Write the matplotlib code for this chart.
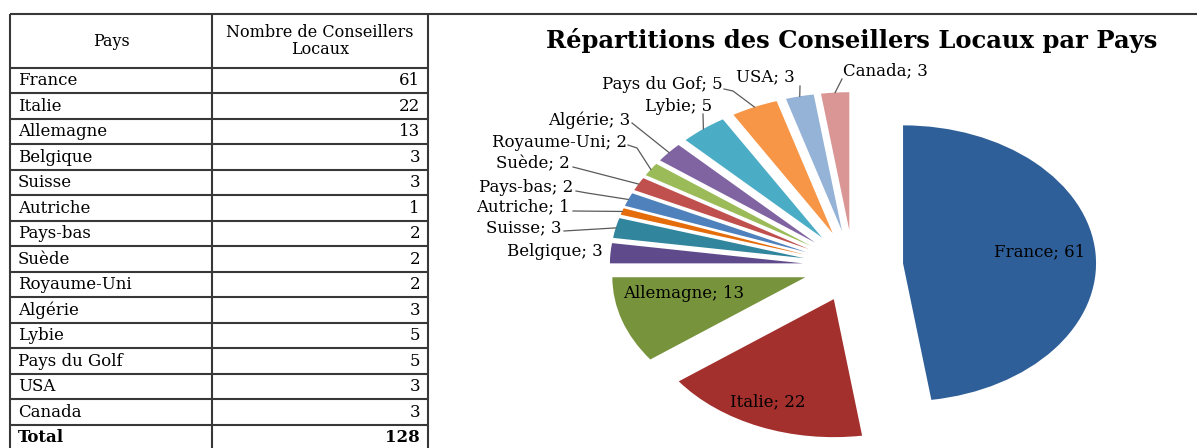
import numpy as np
import matplotlib
matplotlib.use("Agg")
import matplotlib.pyplot as plt

plt.rcParams["font.family"] = ["DejaVu Serif"]

# Données : nombre de conseillers locaux par pays
pays = ["France", "Italie", "Allemagne", "Belgique", "Suisse", "Autriche", "Pays-bas",
        "Suède", "Royaume-Uni", "Algérie", "Lybie", "Pays du Golf", "USA", "Canada"]
conseillers = [61, 22, 13, 3, 3, 1, 2, 2, 2, 3, 5, 5, 3, 3]
# libellés du camembert (tels qu'écrits sur le graphique)
noms_pie = ["France", "Italie", "Allemagne", "Belgique", "Suisse", "Autriche", "Pays-bas",
            "Suède", "Royaume-Uni", "Algérie", "Lybie", "Pays du Gof", "USA", "Canada"]
couleurs = ["#2F5F98", "#A3302C", "#77933C", "#5F4A8B", "#31859C", "#E46C0A",
            "#4F81BD", "#C0504D", "#9BBB59", "#8064A2", "#4BACC6", "#F79646",
            "#95B3D7", "#D99694"]
titre = "Répartitions des Conseillers Locaux par Pays"

W, H = 1197, 448
fig = plt.figure(figsize=(W / 100, H / 100), dpi=100)

# ---- tableau (coordonnées en pixels) ----
tab = fig.add_axes([0, 0, 1, 1])
tab.set_xlim(0, W)
tab.set_ylim(H, 0)
tab.axis("off")

x0, x1, x2 = 10, 212, 428
y_top, y_head, row_h = 14, 68, 25.5
lignes = pays + ["Total"]
valeurs = conseillers + [sum(conseillers)]
y_bot = y_head + len(lignes) * row_h
kw = dict(color="#383838", lw=1.5, solid_capstyle="butt")

tab.plot([x0, W], [y_top, y_top], **kw)
for x in (x0, x1, x2):
    tab.plot([x, x], [y_top, y_bot], **kw)
for i in range(len(lignes) + 1):
    y = y_head + i * row_h
    tab.plot([x0, x2], [y, y], **kw)

tab.text((x0 + x1) / 2, (y_top + y_head) / 2, "Pays", ha="center", va="center", fontsize=11.5)
tab.text((x1 + x2) / 2, (y_top + y_head) / 2, "Nombre de Conseillers\nLocaux",
         ha="center", va="center", fontsize=11.5, linespacing=1.0)
for i, (nom, val) in enumerate(zip(lignes, valeurs)):
    yc = y_head + (i + 0.5) * row_h
    poids = "bold" if nom == "Total" else "normal"
    tab.text(x0 + 8, yc, nom, ha="left", va="center", fontsize=12, fontweight=poids)
    tab.text(x2 - 8, yc, str(val), ha="right", va="center", fontsize=12, fontweight=poids)

# ---- camembert éclaté ----
cx, cy, rx, ry = 853, 266, 193, 138
ax = fig.add_axes([0, 0, 1, 1])
wedges, _ = ax.pie(conseillers, explode=[0.26] * len(conseillers), startangle=90,
                   counterclock=False, colors=couleurs, wedgeprops=dict(linewidth=0))
ax.set_aspect("auto")
ax.set_xlim(-cx / rx, (W - cx) / rx)
ax.set_ylim((cy - H) / ry, cy / ry)
ax.axis("off")


def pix(x, y):
    return (x - cx) / rx, (cy - y) / ry


ax.text(*pix(852, 40), titre, ha="center", va="center", fontsize=17.5, fontweight="bold")

# étiquettes à l'intérieur des grandes parts
dedans = {0: (1040, 252), 1: (768, 402), 2: (684, 293)}
for i, (x, y) in dedans.items():
    ax.text(*pix(x, y), f"{noms_pie[i]}; {conseillers[i]}", ha="center", va="center",
            fontsize=12)

# étiquettes extérieures : position du texte, alignement, coudes du trait de rappel
dehors = {
    3: ((603, 252), "right", None),
    4: ((562, 228), "right", [(564, 231)]),
    5: ((570, 207), "right", [(573, 211)]),
    6: ((573, 187), "right", [(576, 191), (587, 193)]),
    7: ((570, 164), "right", [(573, 167)]),
    8: ((627, 142), "right", [(628, 145), (637, 148)]),
    9: ((630, 120), "right", [(632, 123)]),
    10: ((712, 106), "right", [(703, 114)]),
    11: ((723, 84), "right", [(724, 89), (733, 91)]),
    12: ((795, 77), "right", [(800, 86)]),
    13: ((843, 71), "left", [(842, 79)]),
}
for i, ((x, y), ha, coudes) in dehors.items():
    ax.text(*pix(x, y), f"{noms_pie[i]}; {conseillers[i]}", ha=ha, va="center", fontsize=12)
    if coudes is None:
        continue
    w = wedges[i]
    t = np.deg2rad((w.theta1 + w.theta2) / 2)
    fin = (w.center[0] + w.r * np.cos(t), w.center[1] + w.r * np.sin(t))
    pts = [pix(px, py) for px, py in coudes] + [fin]
    xs, ys = zip(*pts)
    ax.plot(xs, ys, color="#5a5a5a", lw=0.9)

fig.savefig("out.png", dpi=100)
